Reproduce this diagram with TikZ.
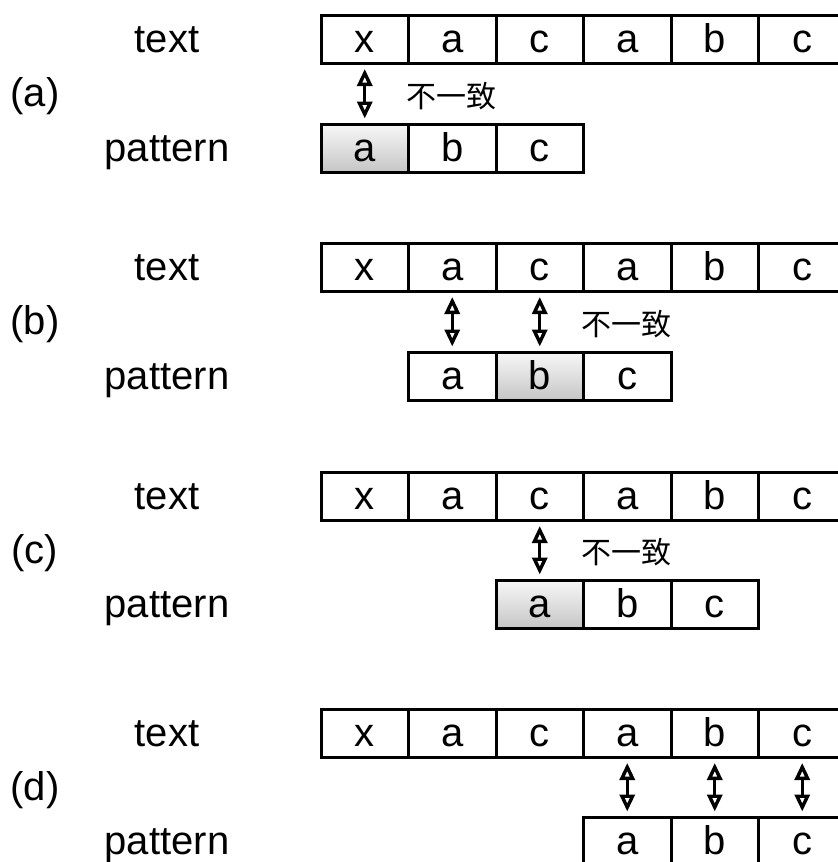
\documentclass[tikz,border=0pt]{standalone}
\usepackage{fontspec}
\setmainfont{Liberation Sans}
\newfontfamily\cjk{Noto Sans CJK SC}
\usetikzlibrary{arrows.meta}
\tikzset{
	cell/.style={draw, line width=1.5pt, minimum width=43.75pt, minimum height=24.25pt, inner sep=0pt, text height=13pt, text depth=0pt},
	miss/.style={cell, top color=gray!6, bottom color=gray!45},
	lbl/.style={inner sep=0pt, text height=13pt, text depth=0pt},
	cmp/.style={line width=1.7pt, {Triangle[open, length=8.5pt, width=7.5pt]}-{Triangle[open, length=8.5pt, width=7.5pt]}, shorten <=2pt, shorten >=2pt},
	ng/.style={font=\cjk\fontsize{15}{18}\selectfont, anchor=west, inner sep=0pt}
}
\begin{document}
\begin{tikzpicture}[x=0.5pt, y=-0.5pt, font=\fontsize{20}{24}\selectfont]
		\useasboundingbox (0,0) rectangle (837,862);
		% (a)
		\node[lbl] (la) at (35,93.75) {(a)};
		\node[lbl] (lta) at (167,39.25) {text};
		\node[lbl] (lpa) at (167,148.25) {pattern};
		\foreach \ch [count=\i from 0] in {x,a,c,a,b,c}
			\node[cell] (ta\i) at (364.75+87.5*\i,39.25) {\ch};
		\node[miss] (pa0) at (364.75,148.25) {a};
		\node[cell] (pa1) at (452.25,148.25) {b};
		\node[cell] (pa2) at (539.75,148.25) {c};
		\draw[cmp] (ta0.south) -- (pa0.north);
		\node[ng] (nga) at (405.75,95.75) {不一致};
		% (b)
		\node[lbl] (lb) at (35,321.75) {(b)};
		\node[lbl] (ltb) at (167,267.25) {text};
		\node[lbl] (lpb) at (167,376.25) {pattern};
		\foreach \ch [count=\i from 0] in {x,a,c,a,b,c}
			\node[cell] (tb\i) at (364.75+87.5*\i,267.25) {\ch};
		\node[cell] (pb0) at (452.25,376.25) {a};
		\node[miss] (pb1) at (539.75,376.25) {b};
		\node[cell] (pb2) at (627.25,376.25) {c};
		\draw[cmp] (tb1.south) -- (pb0.north);
		\draw[cmp] (tb2.south) -- (pb1.north);
		\node[ng] (ngb) at (580.75,323.75) {不一致};
		% (c)
		\node[lbl] (lc) at (35,550.25) {(c)};
		\node[lbl] (ltc) at (167,496.25) {text};
		\node[lbl] (lpc) at (167,604.25) {pattern};
		\foreach \ch [count=\i from 0] in {x,a,c,a,b,c}
			\node[cell] (tc\i) at (364.75+87.5*\i,496.25) {\ch};
		\node[miss] (pc0) at (539.75,604.25) {a};
		\node[cell] (pc1) at (627.25,604.25) {b};
		\node[cell] (pc2) at (714.75,604.25) {c};
		\draw[cmp] (tc2.south) -- (pc0.north);
		\node[ng] (ngc) at (580.75,552.25) {不一致};
		% (d)
		\node[lbl] (ld) at (35,787.25) {(d)};
		\node[lbl] (ltd) at (167,733.25) {text};
		\node[lbl] (lpd) at (167,841.25) {pattern};
		\foreach \ch [count=\i from 0] in {x,a,c,a,b,c}
			\node[cell] (td\i) at (364.75+87.5*\i,733.25) {\ch};
		\node[cell] (pd0) at (627.25,841.25) {a};
		\node[cell] (pd1) at (714.75,841.25) {b};
		\node[cell] (pd2) at (802.25,841.25) {c};
		\foreach \i/\j in {3/0,4/1,5/2}
			\draw[cmp] (td\i.south) -- (pd\j.north);
	\end{tikzpicture}
\end{document}
